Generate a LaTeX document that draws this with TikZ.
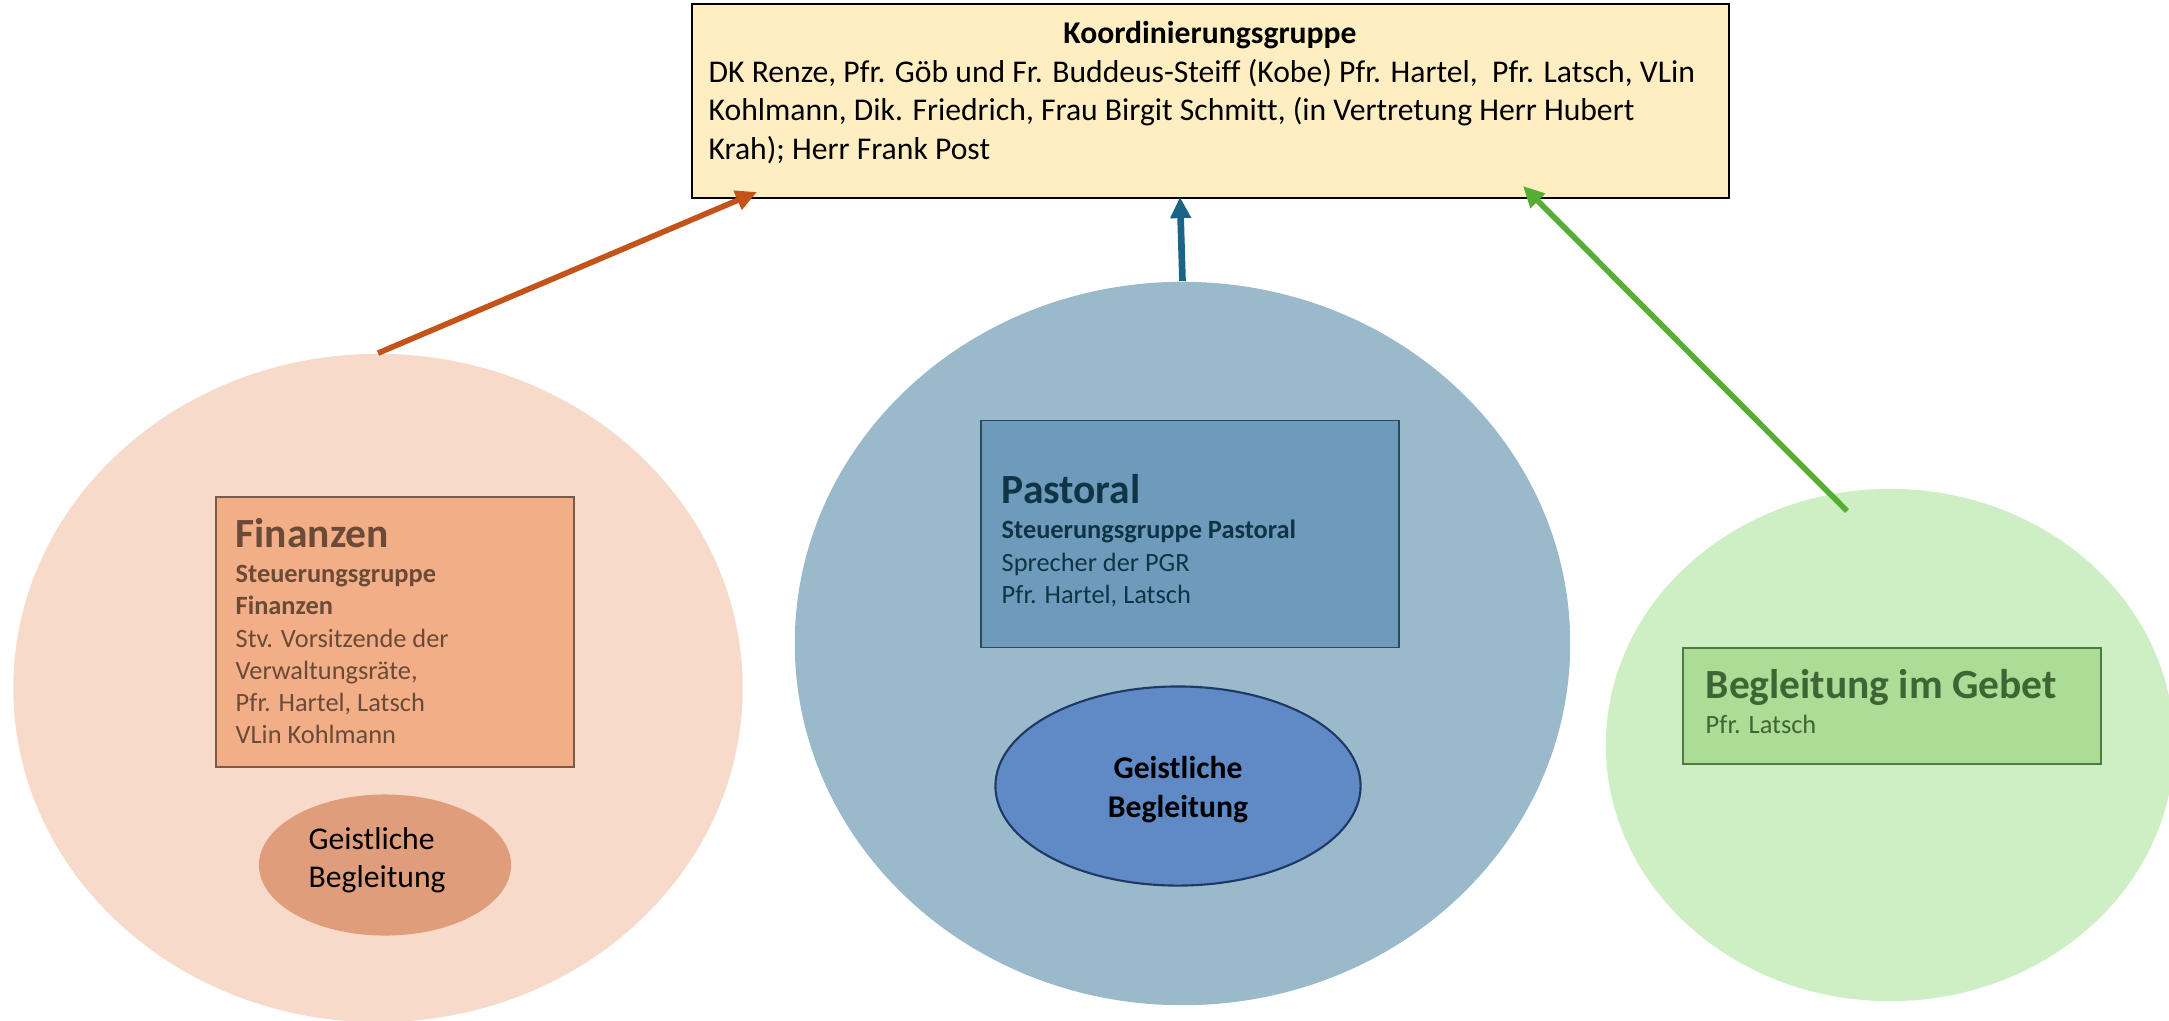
\documentclass[tikz,border=0pt]{standalone}
\usepackage{fontspec}
\setmainfont{Carlito}[Ligatures=NoCommon]
\usetikzlibrary{positioning,shapes.geometric,arrows.meta}
\definecolor{koordgelb}{HTML}{FFEEC2}
\definecolor{finkreis}{HTML}{F8DACA}
\definecolor{finbox}{HTML}{F2AE86}
\definecolor{finrand}{HTML}{7A5A48}
\definecolor{fintext}{HTML}{6B4A38}
\definecolor{finoval}{HTML}{DF9D7B}
\definecolor{pastkreis}{HTML}{9AB9CA}
\definecolor{pastbox}{HTML}{6E9ABB}
\definecolor{pastrand}{HTML}{2A4B5C}
\definecolor{pasttext}{HTML}{0E3446}
\definecolor{pastoval}{HTML}{5F8AC6}
\definecolor{ovalrand}{HTML}{1F3864}
\definecolor{gebetkreis}{HTML}{CEEFC4}
\definecolor{gebetbox}{HTML}{ADDC97}
\definecolor{gebetrand}{HTML}{4F7A43}
\definecolor{gebettext}{HTML}{3E6534}
\definecolor{pfeilorange}{HTML}{C4531A}
\definecolor{pfeilblau}{HTML}{1A6587}
\definecolor{pfeilgruen}{HTML}{55AE32}
\begin{document}
\begin{tikzpicture}[x=0.01cm,y=-0.01cm,
    kreis/.style={ellipse,inner sep=0pt},
    kasten/.style={rectangle,inner sep=0pt,line width=0.5pt},
    titel/.style={anchor=base west,inner sep=0pt,font=\fontsize{11.8}{14}\selectfont\bfseries},
    zeile/.style={anchor=base west,inner sep=0pt,font=\fontsize{7.5}{9}\selectfont},
    gross/.style={anchor=base west,inner sep=0pt,font=\fontsize{9}{11}\selectfont},
    pfeil/.style={line width=1.6pt,-{Triangle[length=6pt,width=5.6pt]}}]
\clip (0,0) rectangle (2169,1020);
                \node [kreis,fill=finkreis,minimum width=7.29cm,minimum height=6.68cm] (fk) at (378,688) {};
                \node [kreis,fill=pastkreis,minimum width=7.75cm,minimum height=7.23cm] (pk) at (1182.5,643.5) {};
                \node [kreis,fill=gebetkreis,minimum width=5.68cm,minimum height=5.12cm] (gk) at (1890,745) {};
                \node [kasten,draw=black,fill=koordgelb,minimum width=10.37cm,minimum height=1.94cm] (koord) at (1210.5,101) {};
                \node [kasten,draw=finrand,fill=finbox,minimum width=3.58cm,minimum height=2.70cm] (fb) at (395,632) {};
                \node [kasten,draw=pastrand,fill=pastbox,minimum width=4.18cm,minimum height=2.27cm] (pb) at (1190,534) {};
                \node [kasten,draw=gebetrand,fill=gebetbox,minimum width=4.18cm,minimum height=1.16cm] (gb) at (1892,706) {};
                \node [kreis,fill=finoval,minimum width=2.52cm,minimum height=1.41cm] (fo) at (385,865) {};
                \node [kreis,draw=ovalrand,line width=0.6pt,fill=pastoval,minimum width=3.65cm,minimum height=1.99cm] (po) at (1178,786) {};
                \node [gross,anchor=base,font=\fontsize{9}{11}\selectfont\bfseries] (k0) at (1210,43) {Koordinierungsgruppe};
                \node [gross] (k1) at (708,82) {DK Renze, Pfr. Göb und Fr. Buddeus-Steiff (Kobe) Pfr. Hartel, \ Pfr. Latsch, VLin};
                \node [gross] (k2) at (708,120) {Kohlmann, Dik. Friedrich, Frau Birgit Schmitt, (in Vertretung Herr Hubert};
                \node [gross] (k3) at (708,159) {Krah); Herr Frank Post};
                \node [titel,text=fintext] (f0) at (235,547) {Finanzen};
                \node [zeile,text=fintext,font=\fontsize{7.5}{9}\selectfont\bfseries] (f1) at (235,582) {Steuerungsgruppe};
                \node [zeile,text=fintext,font=\fontsize{7.5}{9}\selectfont\bfseries] (f2) at (235,614) {Finanzen};
                \node [zeile,text=fintext] (f3) at (235,647) {Stv. Vorsitzende der};
                \node [zeile,text=fintext] (f4) at (235,679) {Verwaltungsräte,};
                \node [zeile,text=fintext] (f5) at (235,711) {Pfr. Hartel, Latsch};
                \node [zeile,text=fintext] (f6) at (235,743) {VLin Kohlmann};
                \node [titel,text=pasttext] (p0) at (1001,503) {Pastoral};
                \node [zeile,text=pasttext,font=\fontsize{7.5}{9}\selectfont\bfseries] (p1) at (1001,538) {Steuerungsgruppe Pastoral};
                \node [zeile,text=pasttext] (p2) at (1001,571) {Sprecher der PGR};
                \node [zeile,text=pasttext] (p3) at (1001,603) {Pfr. Hartel, Latsch};
                \node [titel,text=gebettext] (g0) at (1705,698) {Begleitung im Gebet};
                \node [zeile,text=gebettext] (g1) at (1705,733) {Pfr. Latsch};
                \node [gross] (fo1) at (308,849) {Geistliche};
                \node [gross] (fo2) at (308,887) {Begleitung};
                \node [gross,anchor=base,font=\fontsize{9}{11}\selectfont\bfseries] (po1) at (1178,778) {Geistliche};
                \node [gross,anchor=base,font=\fontsize{9}{11}\selectfont\bfseries] (po2) at (1178,817) {Begleitung};
                \coordinate (kz1) at (757,192);
                \coordinate (kz2) at (1180,197);
                \coordinate (kz3) at (1523,186);
                \coordinate (gs) at (1847,511);
                \draw [pfeil,pfeilorange] (fk.north) -- (kz1);
                \draw [pfeil,pfeilblau,line width=1.9pt] (pk.north) -- (kz2);
                \draw [pfeil,pfeilgruen] (gs) -- (kz3);
\end{tikzpicture}
\end{document}
